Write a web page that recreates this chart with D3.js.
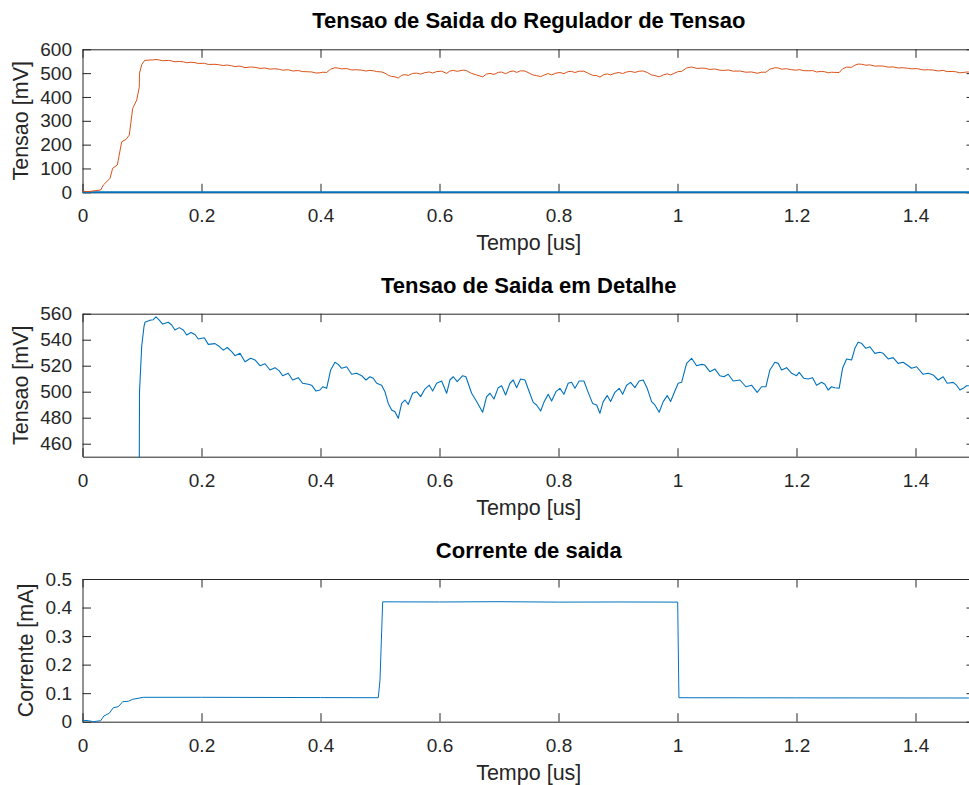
<!DOCTYPE html>
<html>
<head>
<meta charset="utf-8">
<script src="https://cdn.jsdelivr.net/npm/d3@7"></script>
<style>
  body { margin: 0; background: #fff; }
  svg { display: block; }
</style>
</head>
<body>
<div id="chart"></div>
<script>
// tempo [us] and tensao [mV] of the regulator output
var tempoV = [0, 0.0097, 0.021, 0.0306, 0.035, 0.0407, 0.0462, 0.0507, 0.0585, 0.0659,
  0.0731, 0.0786, 0.0844, 0.0911, 0.0954, 0.0958, 0.0995, 0.1033, 0.105, 0.1134, 0.119,
  0.1235, 0.129, 0.1348, 0.1442, 0.1499, 0.1554, 0.1627, 0.1694, 0.1751, 0.1823,
  0.189, 0.1946, 0.2047, 0.2114, 0.2227, 0.2282, 0.2366, 0.2433, 0.2507, 0.2563,
  0.2647, 0.2731, 0.2826, 0.2899, 0.2983, 0.3067, 0.3151, 0.3235, 0.3307, 0.3364,
  0.3458, 0.3532, 0.3626, 0.37, 0.3794, 0.3851, 0.3924, 0.3991, 0.4036, 0.4103,
  0.4171, 0.4243, 0.4298, 0.4356, 0.444, 0.4524, 0.4608, 0.4692, 0.4764, 0.4831,
  0.4887, 0.4944, 0.5028, 0.5083, 0.5139, 0.5196, 0.5251, 0.5307, 0.5364, 0.5419,
  0.5475, 0.5549, 0.5616, 0.5683, 0.5755, 0.5828, 0.5885, 0.5952, 0.6036, 0.612,
  0.6175, 0.6231, 0.6298, 0.6389, 0.6444, 0.654, 0.6624, 0.6725, 0.6792, 0.6848,
  0.6915, 0.6987, 0.7044, 0.7111, 0.7184, 0.7239, 0.7296, 0.7363, 0.7436, 0.7508,
  0.7575, 0.7632, 0.77, 0.7755, 0.7827, 0.7884, 0.7957, 0.8024, 0.8091, 0.8163,
  0.822, 0.8276, 0.8348, 0.8427, 0.8499, 0.8573, 0.8641, 0.8696, 0.8751, 0.8819,
  0.8876, 0.8948, 0.902, 0.9078, 0.9145, 0.9212, 0.9284, 0.9356, 0.9424, 0.9491,
  0.9565, 0.962, 0.9692, 0.976, 0.9827, 0.9884, 0.9956, 1.0012, 1.0069, 1.0153,
  1.0237, 1.0321, 1.0405, 1.046, 1.0544, 1.0628, 1.0712, 1.078, 1.0852, 1.0936,
  1.1049, 1.1149, 1.1245, 1.1339, 1.1413, 1.1485, 1.1553, 1.1637, 1.1692, 1.1749,
  1.1833, 1.1917, 1.2001, 1.2045, 1.2124, 1.2196, 1.227, 1.2337, 1.2421, 1.2477,
  1.2532, 1.2589, 1.2645, 1.2717, 1.2774, 1.2842, 1.2926, 1.2981, 1.3036, 1.3094,
  1.3166, 1.3233, 1.3317, 1.3401, 1.3456, 1.354, 1.3624, 1.3708, 1.3793, 1.3877,
  1.3934, 1.4018, 1.4128, 1.4213, 1.4297, 1.4381, 1.4465, 1.4532, 1.4633, 1.469,
  1.4746, 1.4801, 1.4858, 1.4897];
var tensao = [5, 2.5, 6.7, 9.6, 30.6, 44.5, 58.7, 100.7, 114.6, 212,
  222, 240, 352, 387, 440, 500, 535, 550, 553.4, 555, 555.4,
  557.5, 555, 552, 553.4, 551.3, 547.5, 549.3, 547.5, 543.6, 545.6,
  544, 540.5, 541.5, 536.4, 537, 535.4, 532, 534, 530.8, 527.7,
  529.5, 523, 525.7, 524.4, 520, 521.5, 516.7, 518.5, 516, 512.3,
  514.2, 509, 510.8, 506.5, 505.7, 505, 500.5, 501.3, 503.8, 502.6,
  516.7, 522.6, 521, 518, 519.2, 513.4, 514.2, 512.3, 509, 511.5,
  510.3, 506.5, 505, 500, 491, 486, 484.6, 479.5, 491, 493.6,
  490.3, 498.8, 500, 496.2, 502, 505, 500.5, 506.5, 508.2, 498.8,
  509, 511.5, 507.7, 512.3, 511.5, 498.8, 492.4, 484.2, 496.2, 498.8,
  494.4, 503.1, 504.6, 497.5, 506.5, 509, 503.1, 509.8, 509, 500,
  491.8, 489.8, 485.2, 491.8, 498, 492.8, 500, 502.6, 498, 506.5,
  507.2, 502.6, 508.2, 508.2, 499.5, 491, 489.8, 483.4, 492.4, 497,
  492.4, 499.5, 502.6, 498, 505, 507.2, 503.1, 508.2, 509, 502.6,
  492.4, 489.8, 484.2, 492.4, 497, 492.4, 500.5, 506.5, 507.2, 521.8,
  525.7, 520, 521, 520.5, 515.4, 517.5, 512.3, 511.5, 513.4, 508.2,
  509, 503.8, 505, 499.5, 503.8, 503.8, 516.7, 522.6, 521.8, 516.7,
  518.5, 514.2, 512.3, 514.9, 510.3, 509.8, 510.8, 505, 507.2, 505.7,
  501.3, 503.8, 503.1, 502.6, 518, 525.2, 524.4, 533.4, 538, 537.2,
  533.4, 534.6, 529.5, 530.3, 529.5, 525.2, 526.2, 521.8, 522.6, 520,
  518, 519.2, 513.4, 514.2, 512.9, 509, 511.5, 506.5, 507.2, 505,
  501.3, 502.6, 504.6, 504.6];

// second trace of the first plot (flat at zero)
var tempoZero = [0, 1.5];
var tensaoZero = [0, 0];

// output current [mA]
var tempoI = [0, 0.0097, 0.018, 0.0306, 0.036, 0.045, 0.0518, 0.0602, 0.0676, 0.077,
  0.0844, 0.1023, 0.2, 0.4, 0.4971, 0.5, 0.5045, 0.6, 0.7, 0.8,
  0.9, 1.0003, 1.0024, 1.2, 1.4897];
var corrente = [0.005, 0.0035, 0, 0.0035, 0.02, 0.0295, 0.049, 0.0526, 0.07, 0.0715,
  0.0785, 0.0855, 0.0855, 0.0845, 0.084, 0.146, 0.42, 0.4195, 0.4205, 0.419,
  0.4195, 0.419, 0.084, 0.0835, 0.083];

var xTicks = [0, 0.2, 0.4, 0.6, 0.8, 1, 1.2, 1.4];
var yTicks1 = [0, 100, 200, 300, 400, 500, 600];
var yTicks2 = [460, 480, 500, 520, 540, 560];
var yTicks3 = [0, 0.1, 0.2, 0.3, 0.4, 0.5];

var W = 969, H = 785;
var left = 82.5, right = 975;
var font = "'Liberation Sans', Arial, Helvetica, sans-serif";

var svg = d3.select("#chart").append("svg")
    .attr("width", W)
    .attr("height", H);

var x = d3.scaleLinear().domain([0, 1.5]).range([left, right]);

function zipXY(xs, ys) {
    return xs.map(function (d, i) { return [d, ys[i]]; });
}

function panel(id, top, bottom, yDomain, yTicks, title, ylabel, series) {
    var y = d3.scaleLinear().domain(yDomain).range([bottom, top]);
    var g = svg.append("g");

    svg.append("clipPath").attr("id", "clip" + id)
        .append("rect")
        .attr("x", left).attr("y", top - 1)
        .attr("width", right - left).attr("height", bottom - top + 2);

    var fmt = d3.format("~g");

    // bottom axis
    var xb = g.append("g")
        .attr("transform", "translate(0," + bottom + ")")
        .call(d3.axisBottom(x).tickValues(xTicks).tickFormat(fmt)
            .tickSizeInner(-8.5).tickSizeOuter(0).tickPadding(16.5));
    // top axis
    var xt = g.append("g")
        .attr("transform", "translate(0," + top + ")")
        .call(d3.axisTop(x).tickValues(xTicks).tickFormat("")
            .tickSizeInner(-8.5).tickSizeOuter(0));
    // left axis
    var yl = g.append("g")
        .attr("transform", "translate(" + left + ",0)")
        .call(d3.axisLeft(y).tickValues(yTicks).tickFormat(fmt)
            .tickSizeInner(-8.5).tickSizeOuter(0).tickPadding(10.5));
    // right axis
    var yr = g.append("g")
        .attr("transform", "translate(" + right + ",0)")
        .call(d3.axisRight(y).tickValues(yTicks).tickFormat("")
            .tickSizeInner(-8.5).tickSizeOuter(0));

    [xb, xt, yl, yr].forEach(function (a) {
        a.selectAll("path.domain").attr("stroke", "#262626").attr("stroke-width", 1);
        a.selectAll(".tick line").attr("stroke", "#262626").attr("stroke-width", 1);
        a.selectAll("text")
            .attr("fill", "#262626")
            .style("font-family", font)
            .style("font-size", "19px");
    });

    // lines, drawn over the axes
    var line = d3.line()
        .x(function (d) { return x(d[0]); })
        .y(function (d) { return y(d[1]); });

    series.forEach(function (s) {
        g.append("path")
            .datum(s.data)
            .attr("clip-path", "url(#clip" + id + ")")
            .attr("fill", "none")
            .attr("stroke", s.color)
            .attr("stroke-width", s.width)
            .attr("stroke-linejoin", "round")
            .attr("d", line);
    });

    // title
    svg.append("text")
        .attr("x", (left + right) / 2)
        .attr("y", top - 21)
        .attr("text-anchor", "middle")
        .style("font-family", font)
        .style("font-size", "22px")
        .style("font-weight", "bold")
        .attr("fill", "#000")
        .text(title);

    // x label
    svg.append("text")
        .attr("x", (left + right) / 2)
        .attr("y", bottom + 58)
        .attr("text-anchor", "middle")
        .style("font-family", font)
        .style("font-size", "21.5px")
        .attr("fill", "#262626")
        .text("Tempo [us]");

    // y label
    svg.append("text")
        .attr("transform", "translate(" + ylabel.x + "," + ((top + bottom) / 2) + ") rotate(-90)")
        .attr("text-anchor", "middle")
        .style("font-family", font)
        .style("font-size", "21.5px")
        .attr("fill", "#262626")
        .text(ylabel.text);
}

var tensaoData = zipXY(tempoV, tensao);

panel(1, 49.3, 192.3, [0, 600], yTicks1, "Tensao de Saida do Regulador de Tensao",
    { text: "Tensao [mV]", x: 28 },
    [{ data: zipXY(tempoZero, tensaoZero), color: "#0072BD", width: 2 },
     { data: tensaoData, color: "#D95319", width: 1 }]);

panel(2, 313.7, 456.7, [450, 560], yTicks2, "Tensao de Saida em Detalhe",
    { text: "Tensao [mV]", x: 28 },
    [{ data: tensaoData, color: "#0072BD", width: 1.1 }]);

panel(3, 579, 721.7, [0, 0.5], yTicks3, "Corrente de saida",
    { text: "Corrente [mA]", x: 33 },
    [{ data: zipXY(tempoI, corrente), color: "#0072BD", width: 1 }]);
</script>
</body>
</html>
